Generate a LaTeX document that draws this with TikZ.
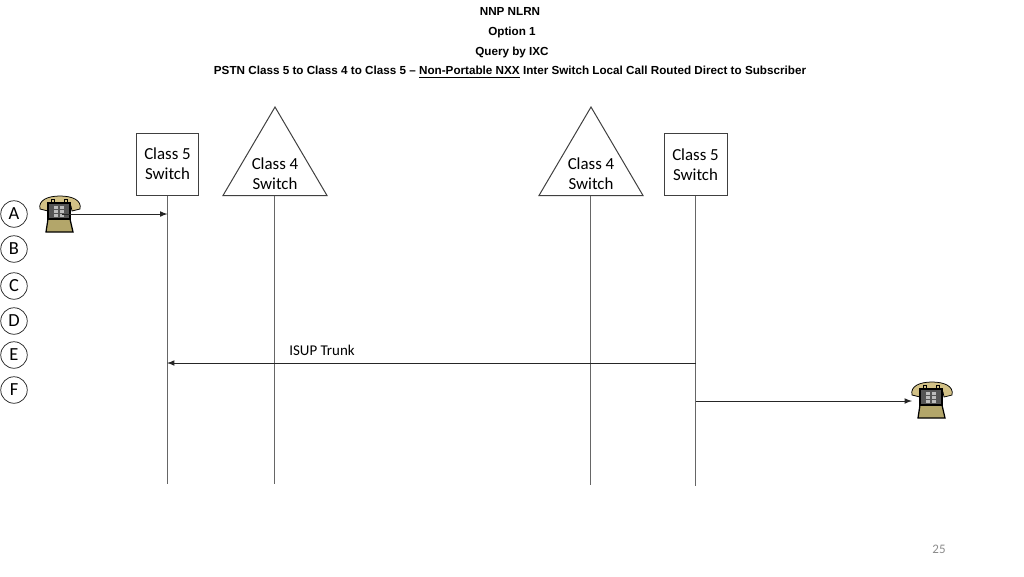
\documentclass[tikz,border=0pt]{standalone}
\usepackage{fontspec}
\setmainfont{Carlito}
\newfontfamily\headfont{Liberation Sans}
\definecolor{phonetan}{HTML}{D2C186}
\definecolor{phonebase}{HTML}{B3A66A}
\definecolor{phonedark}{HTML}{555555}
\definecolor{phonekey}{HTML}{BDBDBD}
\tikzset{
	head/.style={font=\headfont\bfseries\fontsize{6.65}{8}\selectfont, inner sep=0},
	switchbox/.style={draw=black!75, line width=0.2mm, fill=white, minimum width=1.26cm, minimum height=1.24cm, inner sep=0, align=center, font=\fontsize{9.6}{11.5}\selectfont},
	tritext/.style={inner sep=0, align=center, font=\fontsize{9.6}{11.5}\selectfont},
	rowmark/.style={draw=black!85, line width=0.15mm, circle, minimum size=0.53cm, inner sep=0, font=\fontsize{10.5}{11}\selectfont},
	lifeline/.style={draw=black!60, line width=0.2mm},
	msg/.style={draw=black!85, line width=0.17mm, -latex},
	phone/.pic={
		\draw[fill=phonetan, line width=0.15mm] (-20,-5) .. controls (-22,-14) and (-12,-18) .. (0,-18) .. controls (12,-18) and (22,-14) .. (20,-5) -- (12,-3) -- (11,-8) -- (-11,-8) -- (-12,-3) -- cycle;
		\draw[fill=phonetan, line width=0.15mm] (-9,-15) rectangle (-6,-10);
		\draw[fill=phonetan, line width=0.15mm] (4,-15) rectangle (7,-10);
		\draw[fill=phonebase, line width=0.25mm] (-12,5) -- (10,5) -- (13,18) -- (-14,18) -- cycle;
		\draw[fill=phonedark, line width=0.25mm] (-12,-11) rectangle (10,5);
		\foreach \row in {-8,-4,0}{
			\fill[phonekey] (-6,\row) rectangle (-2.5,\row+2.5);
			\fill[phonekey] (0,\row) rectangle (3.5,\row+2.5);
		}
	}
}
\begin{document}
\begin{tikzpicture}[x=0.02cm, y=-0.02cm]
	%%%%% START %%%%%
	\useasboundingbox (0, 0) rectangle (1024, 576);
	
	\node[head] (title1) at (510, 11.5) {NNP NLRN};
	\node[head] (title2) at (512, 32) {Option 1};
	\node[head] (title3) at (512, 52) {Query by IXC};
	\node[head] (title4) at (510, 72.5) {PSTN Class 5 to Class 4 to Class 5 – \underline{Non-Portable NXX} Inter Switch Local Call Routed Direct to Subscriber};
	
	\node[switchbox] (sw5a) at (167.5, 164) {Class 5\\Switch};
	\node[switchbox] (sw5b) at (695.5, 164.5) {Class 5\\Switch};
	
	\draw[draw=black!75, line width=0.2mm] (275, 107) -- (327, 195.5) -- (223, 195.5) -- cycle;
	\draw[draw=black!75, line width=0.2mm] (591, 107) -- (643, 195.5) -- (539, 195.5) -- cycle;
	\node[tritext] (sw4a) at (275, 173.5) {Class 4\\Switch};
	\node[tritext] (sw4b) at (591, 173.5) {Class 4\\Switch};
	
	\coordinate (top4a) at (274.5, 195.5);
	\coordinate (top4b) at (590.5, 195.5);
	\coordinate (end5a) at (167.5, 484);
	\coordinate (end4a) at (274.5, 484);
	\coordinate (end4b) at (590.5, 485);
	\coordinate (end5b) at (695.5, 486);
	
	\draw[lifeline] (sw5a.south) -- (end5a);
	\draw[lifeline] (top4a) -- (end4a);
	\draw[lifeline] (top4b) -- (end4b);
	\draw[lifeline] (sw5b.south) -- (end5b);
	
	\foreach \name/\ypos in {A/214, B/249, C/286, D/321, E/355, F/390}{
		\node[rowmark] (mark\name) at (14, \ypos) {\name};
	}
	
	\pic at (60, 214) {phone};
	\pic at (932, 400) {phone};
	
	\coordinate (phoneA) at (62, 214);
	\coordinate (hitA) at (167.5, 214);
	\coordinate (startE) at (695.5, 363);
	\coordinate (hitE) at (167, 363);
	\coordinate (startF) at (695.5, 401);
	\coordinate (phoneF) at (912, 401);
	
	\draw[msg] (phoneA) -- (hitA);
	\draw[msg] (startE) -- (hitE);
	\draw[msg] (startF) -- (phoneF);
	
	\node[inner sep=0, font=\fontsize{8.5}{10}\selectfont] (trunk) at (322, 350.5) {ISUP Trunk};
	\node[inner sep=0, text=black!45, font=\fontsize{7.4}{9}\selectfont] (pagenum) at (939, 549.5) {25};
	%%%%% END %%%%%
\end{tikzpicture}
\end{document}
